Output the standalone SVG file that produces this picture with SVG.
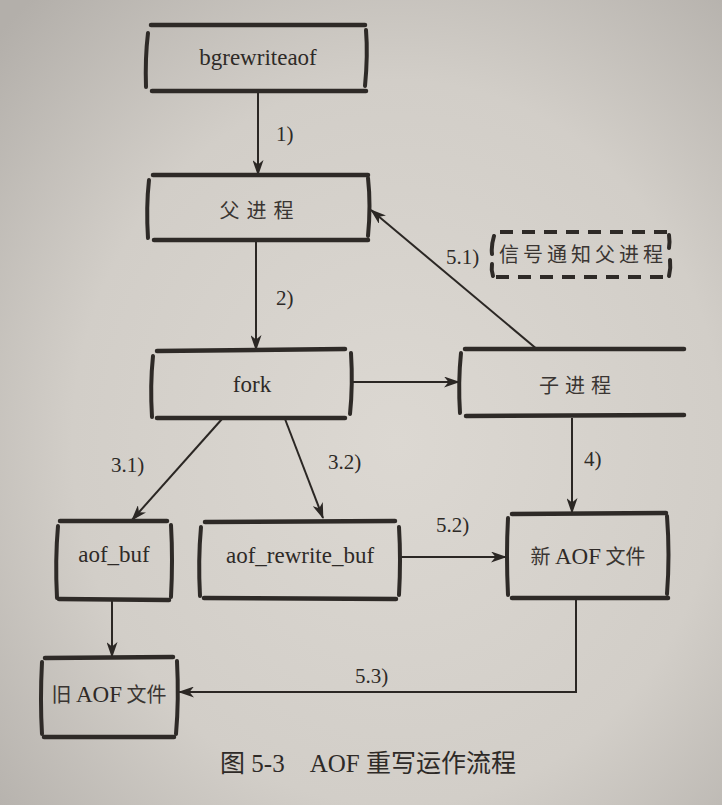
<svg xmlns="http://www.w3.org/2000/svg" width="722" height="805" viewBox="0 0 722 805">
<defs>
<radialGradient id="bg" cx="0.55" cy="0.55" r="0.75">
<stop offset="0" stop-color="#dcd8d2"/>
<stop offset="0.6" stop-color="#d2cec8"/>
<stop offset="1" stop-color="#b3afaa"/>
</radialGradient>
<marker id="ah" viewBox="0 0 16 11" refX="15" refY="5.5" markerWidth="16" markerHeight="11" markerUnits="userSpaceOnUse" orient="auto">
<path d="M0,0 L16,5.5 L0,11 L4.5,5.5 z" fill="#2b2724"/>
</marker>
<style>
.bar{stroke:#2e2a27;stroke-width:4.5;stroke-linecap:round;fill:none}
.side{stroke:#2e2a27;stroke-width:4;stroke-linecap:round;fill:none}
.dash{stroke:#2e2a27;stroke-width:4;stroke-dasharray:13 9;fill:none}
.ln{stroke:#2b2724;stroke-width:2;fill:none}
.lat{font-family:"Liberation Serif",serif;font-size:23px;fill:#2e2a27}
.cjk{font-family:"Noto Sans CJK SC",sans-serif;font-size:20px;fill:#3a3532}
.lbl{font-family:"Liberation Serif",serif;font-size:21px;fill:#2e2a27}
</style>
</defs>
<rect x="0" y="0" width="722" height="805" fill="url(#bg)"/>

<g id="connectors">
<line class="ln" x1="258" y1="93" x2="258" y2="175" marker-end="url(#ah)"/>
<line class="ln" x1="256" y1="242" x2="256" y2="350" marker-end="url(#ah)"/>
<line class="ln" x1="353" y1="382" x2="459" y2="382" marker-end="url(#ah)"/>
<line class="ln" x1="538" y1="350" x2="371" y2="210" marker-end="url(#ah)"/>
<line class="ln" x1="222" y1="419" x2="132" y2="520" marker-end="url(#ah)"/>
<line class="ln" x1="285" y1="419" x2="323" y2="518" marker-end="url(#ah)"/>
<line class="ln" x1="572" y1="418" x2="572" y2="513" marker-end="url(#ah)"/>
<line class="ln" x1="401" y1="557" x2="506" y2="557" marker-end="url(#ah)"/>
<line class="ln" x1="112" y1="601" x2="112" y2="657" marker-end="url(#ah)"/>
<polyline class="ln" points="576,599 576,692 179,692" marker-end="url(#ah)"/>
<text class="lbl" x="276" y="141">1)</text>
<text class="lbl" x="276" y="305">2)</text>
<text class="lbl" x="446" y="264">5.1)</text>
<text class="lbl" x="111" y="472">3.1)</text>
<text class="lbl" x="328" y="469">3.2)</text>
<text class="lbl" x="584" y="466">4)</text>
<text class="lbl" x="436" y="532">5.2)</text>
<text class="lbl" x="355" y="683">5.3)</text>
</g>

<g id="bgrewriteaof">
<line class="bar" x1="151" y1="25" x2="365" y2="25"/>
<line class="bar" x1="152" y1="91" x2="366" y2="91"/>
<path class="side" d="M148,33 Q145,58 146,87"/>
<path class="side" d="M366,30 Q368,55 365,86"/>
<text class="lat" x="258" y="65" text-anchor="middle">bgrewriteaof</text>
</g>

<g id="parent">
<line class="bar" x1="153" y1="175" x2="368" y2="175"/>
<line class="bar" x1="154" y1="240" x2="368" y2="240"/>
<path class="side" d="M149,180 Q146,207 148,238"/>
<path class="side" d="M368,178 Q371,205 368,236"/>
<text class="cjk" x="260" y="218" text-anchor="middle" letter-spacing="7">父进程</text>
</g>

<g id="signal">
<line class="dash" x1="500" y1="232" x2="668" y2="232"/>
<line class="dash" x1="496" y1="277" x2="668" y2="277"/>
<path class="side" d="M494,236 Q491,246 492,254"/>
<path class="side" d="M492,264 Q491,270 493,276"/>
<path class="side" d="M669,235 Q670,242 669,248"/>
<path class="side" d="M670,260 Q671,268 669,276"/>
<text class="cjk" x="583" y="262" text-anchor="middle" letter-spacing="4">信号通知父进程</text>
</g>

<g id="fork">
<line class="bar" x1="157" y1="351" x2="345" y2="349"/>
<line class="bar" x1="157" y1="418" x2="345" y2="418"/>
<path class="side" d="M153,356 Q150,385 152,417"/>
<path class="side" d="M351,353 Q353,385 350,414"/>
<text class="lat" x="252" y="392" text-anchor="middle">fork</text>
</g>

<g id="child">
<line class="bar" x1="465" y1="349" x2="684" y2="349"/>
<line class="bar" x1="466" y1="416" x2="684" y2="415"/>
<path class="side" d="M461,353 Q458,382 460,413"/>
<text class="cjk" x="578" y="393" text-anchor="middle" letter-spacing="6">子进程</text>
</g>

<g id="aof_buf">
<line class="bar" x1="60" y1="521" x2="167" y2="521"/>
<line class="bar" x1="59" y1="599" x2="169" y2="600"/>
<path class="side" d="M58,526 Q55,560 57,598"/>
<path class="side" d="M171,525 Q173,560 171,597"/>
<text class="lat" x="114" y="562" text-anchor="middle">aof_buf</text>
</g>

<g id="aof_rewrite_buf">
<line class="bar" x1="205" y1="522" x2="395" y2="521"/>
<line class="bar" x1="204" y1="598" x2="396" y2="599"/>
<path class="side" d="M201,527 Q198,560 200,596"/>
<path class="side" d="M399,527 Q401,560 399,595"/>
<text class="lat" x="300" y="563" text-anchor="middle">aof_rewrite_buf</text>
</g>

<g id="new_aof">
<line class="bar" x1="512" y1="514" x2="666" y2="513"/>
<line class="bar" x1="512" y1="598" x2="668" y2="598"/>
<path class="side" d="M508,518 Q506,555 508,595"/>
<path class="side" d="M667,516 Q670,555 667,594"/>
<text x="588" y="564" text-anchor="middle"><tspan class="cjk">新 </tspan><tspan class="lat">AOF</tspan><tspan class="cjk"> 文件</tspan></text>
</g>

<g id="old_aof">
<line class="bar" x1="45" y1="658" x2="173" y2="657"/>
<line class="bar" x1="44" y1="737" x2="174" y2="737"/>
<path class="side" d="M42,662 Q40,700 42,734"/>
<path class="side" d="M177,661 Q179,700 176,734"/>
<text x="109" y="702" text-anchor="middle"><tspan class="cjk">旧 </tspan><tspan class="lat">AOF</tspan><tspan class="cjk"> 文件</tspan></text>
</g>

<text x="368" y="772" text-anchor="middle" style="font-family:'Liberation Serif','Noto Sans CJK SC',serif;font-size:25px;fill:#2e2a27"><tspan style="font-family:'Noto Sans CJK SC',sans-serif">图</tspan> 5-3　AOF <tspan style="font-family:'Noto Sans CJK SC',sans-serif">重写运作流程</tspan></text>
</svg>
